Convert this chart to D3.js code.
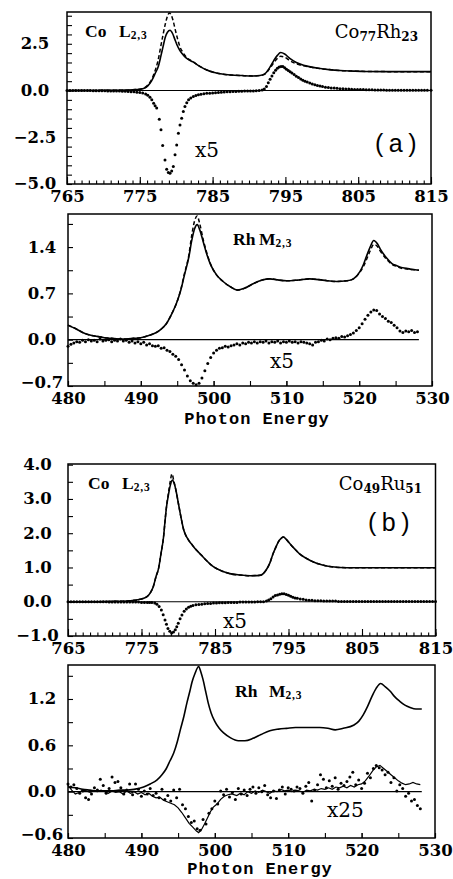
<!DOCTYPE html>
<html>
<head>
<meta charset="utf-8">
<script src="https://cdn.jsdelivr.net/npm/d3@7/dist/d3.min.js"></script>
<style>
  body { margin: 0; background: #fff; }
  text { fill: #000; }
</style>
</head>
<body>
<div id="chart"></div>
<script>
// ---- data: [photon energy (eV), normalised intensity] ----

// (a) Co77Rh23, Co L2,3 edge
const coXasA = [[765,0],[768,0],[771,0.01],[773,0.02],[774,0.04],[775,0.07],[775.6,0.12],[776.1,0.25],[776.6,0.5],[777.1,0.9],[777.55,1.3],[777.9,1.85],[778.2,2.36],[778.5,2.85],[778.8,3.12],[779.15,3.22],[779.5,3.05],[779.8,2.75],[780.1,2.45],[780.45,2.18],[780.8,1.98],[781.4,1.73],[782.3,1.53],[783.3,1.28],[784.2,1.1],[785.1,0.98],[786.3,0.88],[787.5,0.83],[789,0.8],[790.5,0.78],[791.5,0.8],[792.2,0.9],[792.8,1.2],[793.4,1.6],[793.9,1.88],[794.35,2.03],[794.9,1.95],[795.6,1.72],[796.5,1.5],[797.5,1.35],[798.6,1.25],[799.8,1.18],[801,1.12],[802.5,1.07],[804.3,1.04],[806,1.02],[810,1.01],[815,1.01]];
const coXasDashA = [[765,0],[770,0.01],[773,0.02],[774.5,0.05],[775.5,0.12],[776,0.25],[776.5,0.5],[777,0.95],[777.5,1.6],[777.9,2.4],[778.2,3.0],[778.5,3.55],[778.8,3.98],[779.05,4.15],[779.3,4.05],[779.6,3.7],[779.9,3.2],[780.2,2.75],[780.5,2.35],[780.9,2.05],[781.4,1.78],[782.3,1.54],[783.3,1.28],[784.2,1.1],[785.1,0.98],[786.3,0.88],[787.5,0.83],[789,0.8],[790.5,0.78],[791.5,0.8],[792.2,0.88],[792.8,1.15],[793.4,1.48],[793.9,1.72],[794.35,1.83],[794.9,1.78],[795.6,1.6],[796.5,1.43],[797.5,1.32],[798.6,1.24],[799.8,1.17],[801,1.12],[802.5,1.07],[804.3,1.04],[806,1.02],[810,1.01],[815,1.01]];
const coMcdA = [[765,0],[765.4,0],[765.8,0],[766.2,0],[766.6,0],[767,0],[767.4,0],[767.8,0],[768.2,0],[768.6,-0.01],[769,-0.01],[769.4,-0.01],[769.8,-0.01],[770.2,-0.01],[770.6,-0.02],[771,-0.02],[771.4,-0.02],[771.8,-0.03],[772.2,-0.03],[772.6,-0.04],[773,-0.04],[773.4,-0.05],[773.8,-0.06],[774.2,-0.07],[774.6,-0.09],[775,-0.11],[775.4,-0.13],[775.8,-0.18],[776.1,-0.25],[776.4,-0.36],[776.65,-0.5],[776.9,-0.68],[777.1,-0.82],[777.32,-0.94],[777.68,-1.53],[777.91,-2.1],[778.14,-2.94],[778.46,-3.71],[778.69,-4.21],[778.92,-4.38],[779.15,-4.43],[779.38,-4.3],[779.6,-4.07],[779.84,-3.44],[780.07,-2.91],[780.3,-2.28],[780.52,-1.85],[780.75,-1.48],[780.98,-1.12],[781.2,-0.86],[781.45,-0.66],[781.7,-0.5],[782,-0.4],[782.35,-0.32],[782.7,-0.27],[783.05,-0.23],[783.4,-0.2],[783.8,-0.17],[784.2,-0.15],[784.6,-0.14],[785,-0.13],[785.4,-0.12],[785.8,-0.1],[786.2,-0.09],[786.6,-0.08],[787,-0.07],[787.4,-0.06],[787.8,-0.05],[788.2,-0.05],[788.6,-0.04],[789,-0.04],[789.4,-0.03],[789.8,-0.03],[790.2,-0.02],[790.6,-0.02],[791,-0.01],[791.4,0],[791.8,0.03],[792.1,0.08],[792.4,0.22],[792.65,0.42],[792.9,0.6],[793.15,0.78],[793.4,0.95],[793.65,1.08],[793.9,1.19],[794.15,1.26],[794.4,1.29],[794.65,1.28],[794.9,1.22],[795.15,1.14],[795.4,1.07],[795.65,1.0],[795.9,0.94],[796.2,0.86],[796.5,0.77],[796.8,0.69],[797.1,0.61],[797.4,0.55],[797.7,0.5],[798,0.45],[798.35,0.4],[798.7,0.35],[799.05,0.31],[799.4,0.27],[799.75,0.24],[800.1,0.21],[800.5,0.18],[800.9,0.16],[801.3,0.14],[801.7,0.13],[802.1,0.12],[802.5,0.1],[802.9,0.09],[803.3,0.08],[803.7,0.08],[804.1,0.07],[804.5,0.06],[804.9,0.06],[805.3,0.05],[805.7,0.05],[806.1,0.04],[806.5,0.04],[806.9,0.04],[807.3,0.03],[807.7,0.03],[808.1,0.03],[808.5,0.03],[808.9,0.02],[809.3,0.02],[809.7,0.02],[810.1,0.02],[810.5,0.02],[810.9,0.02],[811.3,0.01],[811.7,0.01],[812.1,0.01],[812.5,0.01],[812.9,0.01],[813.3,0.01],[813.7,0.01],[814.1,0.01],[814.5,0.01],[815,0.01]];

// (a) Co77Rh23, Rh M2,3 edge
const rhXasA = [[480,0.22],[481,0.17],[482,0.11],[483,0.07],[484,0.05],[485,0.03],[486,0.02],[487,0.01],[488,0.01],[489,0.02],[490,0.03],[491,0.06],[492,0.1],[492.8,0.16],[493.5,0.24],[494.2,0.38],[494.9,0.55],[495.5,0.75],[496,0.98],[496.6,1.25],[497,1.5],[497.4,1.68],[497.75,1.74],[498.1,1.66],[498.6,1.47],[499.1,1.28],[499.6,1.13],[500.4,0.98],[501.3,0.88],[502.3,0.8],[503.3,0.75],[504.3,0.78],[505.5,0.85],[506.6,0.9],[507.7,0.92],[509,0.9],[510,0.89],[511.5,0.9],[513.2,0.92],[515,0.9],[516.9,0.88],[518.3,0.89],[519.2,0.92],[520.1,1.03],[520.6,1.14],[521,1.26],[521.5,1.4],[522,1.5],[522.5,1.45],[522.9,1.37],[523.8,1.23],[524.5,1.15],[525.1,1.12],[525.8,1.09],[526.5,1.08],[527.3,1.06],[528.2,1.05]];
const rhXasDashA = [[480,0.22],[481,0.17],[482,0.11],[483,0.07],[484,0.05],[485,0.03],[486,0.02],[487,0.01],[488,0.01],[489,0.02],[490,0.03],[491,0.06],[492,0.1],[492.8,0.16],[493.5,0.24],[494.2,0.38],[494.9,0.55],[495.5,0.76],[496,1.0],[496.6,1.28],[497,1.58],[497.4,1.8],[497.75,1.87],[498.1,1.75],[498.6,1.5],[499.1,1.3],[499.6,1.14],[500.4,0.98],[501.3,0.88],[502.3,0.8],[503.3,0.75],[504.3,0.78],[505.5,0.85],[506.6,0.9],[507.7,0.92],[509,0.9],[510,0.89],[511.5,0.9],[513.2,0.92],[515,0.9],[516.9,0.88],[518.3,0.89],[519.2,0.92],[520.1,1.02],[520.6,1.11],[521,1.21],[521.5,1.34],[522,1.44],[522.5,1.41],[522.9,1.34],[523.8,1.21],[524.5,1.14],[525.1,1.11],[525.8,1.08],[526.5,1.07],[527.3,1.06],[528.2,1.05]];
const rhMcdA = [[480,-0.1],[480.4,-0.07],[480.8,-0.05],[481.2,-0.03],[481.6,-0.04],[482,-0.01],[482.4,-0.03],[482.8,0],[483.2,-0.02],[483.6,-0.01],[484,-0.03],[484.4,0.01],[484.8,-0.02],[485.2,-0.01],[485.6,0],[486,-0.03],[486.4,-0.01],[486.8,-0.02],[487.2,0.01],[487.6,-0.02],[488,-0.01],[488.4,-0.04],[488.8,-0.02],[489.2,-0.05],[489.6,-0.03],[490,-0.06],[490.4,-0.04],[490.8,-0.08],[491.2,-0.06],[491.6,-0.09],[492,-0.1],[492.4,-0.09],[492.8,-0.13],[493.2,-0.12],[493.6,-0.16],[494,-0.18],[494.4,-0.22],[494.8,-0.25],[495.2,-0.3],[495.6,-0.38],[496,-0.46],[496.4,-0.55],[496.8,-0.62],[497.2,-0.66],[497.6,-0.68],[498,-0.66],[498.4,-0.58],[498.8,-0.47],[499.2,-0.36],[499.6,-0.27],[500,-0.2],[500.4,-0.16],[500.8,-0.13],[501.2,-0.12],[501.6,-0.1],[502,-0.11],[502.4,-0.09],[502.8,-0.08],[503.2,-0.06],[503.6,-0.08],[504,-0.05],[504.4,-0.06],[504.8,-0.04],[505.2,-0.05],[505.6,-0.03],[506,-0.05],[506.4,-0.03],[506.8,-0.04],[507.2,-0.02],[507.6,-0.05],[508,-0.03],[508.4,-0.04],[508.8,-0.02],[509.2,-0.05],[509.6,-0.03],[510,-0.04],[510.4,-0.02],[510.8,-0.04],[511.2,-0.03],[511.6,-0.05],[512,-0.03],[512.4,-0.04],[512.8,-0.05],[513.2,-0.06],[513.6,-0.08],[514,-0.04],[514.4,-0.03],[514.8,-0.01],[515.2,-0.02],[515.6,0.01],[516,0],[516.4,0.02],[516.8,0.03],[517.2,0.02],[517.6,0.05],[518,0.04],[518.4,0.06],[518.8,0.08],[519.2,0.1],[519.6,0.14],[520,0.18],[520.4,0.24],[520.8,0.31],[521.2,0.37],[521.6,0.42],[522,0.45],[522.4,0.44],[522.8,0.39],[523.2,0.35],[523.6,0.32],[524,0.28],[524.4,0.26],[524.8,0.22],[525.2,0.18],[525.6,0.13],[526,0.11],[526.4,0.13],[526.8,0.12],[527.2,0.14],[527.6,0.11],[528,0.12]];

// (b) Co49Ru51, Co L2,3 edge
const coXasB = [[765,0],[768,0],[771,0.01],[773,0.02],[774,0.04],[774.8,0.07],[775.7,0.14],[776.2,0.26],[776.6,0.44],[777,0.75],[777.3,0.95],[777.65,1.4],[778,1.89],[778.2,2.35],[778.4,2.76],[778.65,3.1],[778.9,3.38],[779.2,3.55],[779.45,3.45],[779.7,3.24],[779.95,2.95],[780.2,2.66],[780.45,2.38],[780.7,2.13],[781,1.95],[781.4,1.8],[782,1.63],[782.5,1.5],[783.2,1.35],[783.8,1.21],[784.5,1.07],[785.2,0.97],[786,0.89],[787,0.82],[788.4,0.78],[789.8,0.76],[791.1,0.77],[791.6,0.83],[792,0.94],[792.5,1.15],[792.9,1.4],[793.3,1.6],[793.6,1.74],[794,1.85],[794.3,1.89],[794.7,1.82],[795.2,1.69],[795.8,1.55],[796.5,1.4],[797.4,1.27],[798.4,1.16],[799.5,1.08],[800.6,1.03],[802,1],[803.8,0.99],[807,0.99],[811,0.99],[815,0.99]];
const coXasDashB = [[765,0],[768,0],[771,0.01],[773,0.02],[774,0.04],[774.8,0.07],[775.7,0.14],[776.2,0.26],[776.6,0.44],[777,0.75],[777.3,0.95],[777.65,1.4],[778,1.89],[778.2,2.35],[778.4,2.78],[778.65,3.15],[778.9,3.5],[779.15,3.73],[779.4,3.52],[779.7,3.24],[779.95,2.95],[780.2,2.66],[780.45,2.38],[780.7,2.13],[781,1.95],[781.4,1.8],[782,1.63],[782.5,1.5],[783.2,1.35],[783.8,1.21],[784.5,1.07],[785.2,0.97],[786,0.89],[787,0.82],[788.4,0.78],[789.8,0.76],[791.1,0.77],[791.6,0.83],[792,0.94],[792.5,1.15],[792.9,1.4],[793.3,1.6],[793.6,1.74],[794,1.85],[794.3,1.89],[794.7,1.82],[795.2,1.69],[795.8,1.55],[796.5,1.4],[797.4,1.27],[798.4,1.16],[799.5,1.08],[800.6,1.03],[802,1],[803.8,0.99],[807,0.99],[811,0.99],[815,0.99]];
const coMcdB = [[765,0],[765.4,0],[765.8,0],[766.2,0],[766.6,0],[767,0],[767.4,0],[767.8,0],[768.2,0],[768.6,0],[769,0],[769.4,0],[769.8,0],[770.2,0],[770.6,-0.01],[771,-0.01],[771.4,-0.01],[771.8,-0.01],[772.2,-0.01],[772.6,-0.01],[773,-0.01],[773.4,-0.01],[773.8,-0.01],[774.2,-0.01],[774.6,-0.01],[775,-0.02],[775.4,-0.02],[775.8,-0.02],[776.1,-0.02],[776.4,-0.02],[776.8,-0.04],[777.1,-0.07],[777.4,-0.14],[777.7,-0.24],[777.95,-0.38],[778.2,-0.53],[778.4,-0.66],[778.6,-0.78],[778.85,-0.86],[779.1,-0.91],[779.35,-0.88],[779.6,-0.82],[779.8,-0.73],[780,-0.63],[780.25,-0.5],[780.5,-0.39],[780.8,-0.28],[781.1,-0.21],[781.4,-0.16],[781.7,-0.13],[782,-0.11],[782.4,-0.09],[782.8,-0.08],[783.2,-0.07],[783.6,-0.06],[784,-0.05],[784.4,-0.05],[784.8,-0.04],[785.2,-0.04],[785.6,-0.03],[786,-0.03],[786.4,-0.03],[786.8,-0.02],[787.2,-0.02],[787.6,-0.02],[788,-0.02],[788.4,-0.01],[788.8,-0.01],[789.2,-0.01],[789.6,-0.01],[790,-0.01],[790.4,-0.01],[790.8,0],[791.2,0],[791.6,0],[792,0.02],[792.3,0.05],[792.6,0.09],[792.9,0.14],[793.2,0.18],[793.5,0.2],[793.8,0.22],[794.1,0.23],[794.4,0.23],[794.7,0.21],[795,0.19],[795.3,0.16],[795.6,0.13],[795.9,0.11],[796.2,0.1],[796.6,0.08],[797,0.07],[797.4,0.05],[797.8,0.04],[798.2,0.04],[798.6,0.03],[799,0.03],[799.4,0.03],[799.8,0.02],[800.2,0.02],[800.6,0.02],[801,0.02],[801.4,0.02],[801.8,0.01],[802.2,0.01],[802.6,0.01],[803,0.01],[803.4,0.01],[803.8,0.01],[804.2,0.01],[804.6,0.01],[805,0.01],[805.4,0.01],[805.8,0.01],[806.2,0.01],[806.6,0.01],[807,0.01],[807.4,0.01],[807.8,0.01],[808.2,0.01],[808.6,0.01],[809,0.01],[809.4,0.01],[809.8,0.01],[810.2,0.01],[810.6,0.01],[811,0.01],[811.4,0.01],[811.8,0.01],[812.2,0.01],[812.6,0.01],[813,0.01],[813.4,0.01],[813.8,0.01],[814.2,0.01],[814.6,0.01],[815,0.01]];

// (b) Co49Ru51, Rh M2,3 edge
const rhXasB = [[480,0.06],[481,0.05],[482,0.03],[483,0.02],[484,0.01],[485,0.01],[486,0.01],[487,0.02],[488,0.02],[489,0.03],[490.3,0.06],[491.2,0.1],[492.1,0.15],[492.8,0.22],[493.4,0.3],[493.9,0.4],[494.4,0.5],[494.9,0.65],[495.3,0.8],[495.8,0.98],[496.2,1.15],[496.6,1.3],[496.9,1.42],[497.3,1.53],[497.8,1.62],[498.1,1.55],[498.4,1.45],[498.75,1.3],[499.1,1.15],[499.5,1.02],[500,0.91],[500.6,0.82],[501.2,0.76],[502.1,0.7],[503.2,0.66],[504.1,0.66],[505.2,0.69],[506.3,0.74],[507.5,0.79],[508.7,0.81],[509.8,0.82],[511,0.83],[512.1,0.83],[513.2,0.83],[514.3,0.83],[515.4,0.82],[516.4,0.8],[517.5,0.82],[518.9,0.86],[519.6,0.91],[520.2,0.99],[520.8,1.1],[521.4,1.23],[522,1.34],[522.6,1.4],[523.2,1.36],[523.9,1.3],[524.5,1.23],[525.2,1.17],[525.9,1.12],[526.6,1.09],[527.4,1.07],[528.2,1.07]];
const rhMcdLineB = [[480,0.08],[480.5,0.02],[481,-0.03],[481.5,-0.01],[482,0.02],[482.5,0.01],[483,-0.01],[483.5,0.01],[484,0],[484.5,0.02],[485,0],[485.5,-0.02],[486,0.01],[486.5,-0.01],[487,0],[487.5,-0.03],[488,0.01],[488.5,-0.02],[489,0],[489.5,-0.03],[490,-0.01],[490.5,-0.04],[491,-0.02],[491.5,-0.06],[492,-0.08],[492.5,-0.07],[493,-0.11],[493.5,-0.13],[494,-0.15],[494.5,-0.17],[495,-0.21],[495.5,-0.27],[496,-0.34],[496.5,-0.41],[497,-0.46],[497.5,-0.51],[497.8,-0.53],[498.2,-0.49],[498.6,-0.42],[499,-0.34],[499.4,-0.26],[499.8,-0.2],[500.3,-0.16],[500.8,-0.1],[501.3,-0.06],[501.8,-0.04],[502.3,-0.03],[503,-0.05],[503.5,-0.02],[504,-0.04],[504.5,0],[505,-0.02],[505.5,0.01],[506,-0.01],[506.5,0.02],[507,0],[507.5,-0.02],[508,0.01],[508.5,0],[509,0.03],[509.5,0.01],[510,0.02],[510.5,0],[511,0.02],[511.5,0.01],[512,-0.01],[512.5,0.02],[513,0.01],[513.5,0.03],[514,0.02],[514.5,0.04],[515,0.03],[515.5,0.05],[516,0.03],[516.5,0.06],[517,0.05],[517.5,0.07],[518,0.05],[518.5,0.08],[519,0.06],[519.5,0.09],[520,0.1],[520.5,0.14],[521,0.2],[521.5,0.27],[522,0.32],[522.5,0.34],[523,0.3],[523.5,0.26],[524,0.22],[524.5,0.18],[525,0.14],[525.5,0.11],[526,0.09],[526.5,0.1],[527,0.12],[527.5,0.1],[528,0.09]];
const rhMcdDotsB = [[480,0.1],[480.4,0.06],[480.8,0.09],[481.2,0.04],[481.6,-0.02],[482,0.01],[482.4,-0.08],[482.8,-0.1],[483.2,-0.03],[483.6,0.05],[484,0.02],[484.4,0.16],[484.8,0.08],[485.2,-0.02],[485.6,0.04],[486,0.19],[486.4,0.12],[486.8,0.13],[487.2,0.05],[487.6,-0.03],[488,0.02],[488.4,0.1],[488.8,-0.04],[489.2,0.1],[489.6,0.03],[490,-0.06],[490.4,0.01],[490.8,-0.03],[491.2,0.04],[491.6,-0.05],[492,-0.02],[492.4,-0.08],[492.8,0.03],[493.2,-0.1],[493.6,-0.05],[494,-0.12],[494.4,0.02],[494.8,-0.08],[495.2,0.03],[495.6,-0.17],[496,-0.22],[496.4,-0.32],[496.8,-0.4],[497.2,-0.38],[497.6,-0.48],[498,-0.5],[498.4,-0.36],[498.8,-0.42],[499.2,-0.28],[499.6,-0.22],[500,-0.12],[500.4,-0.16],[500.8,0.01],[501.2,-0.04],[501.6,0.03],[502,-0.07],[502.4,-0.01],[502.8,-0.1],[503.2,0.04],[503.6,-0.03],[504,0.02],[504.4,-0.05],[504.8,0.03],[505.2,0.06],[505.6,-0.02],[506,0.05],[506.4,0],[506.8,0.08],[507.2,-0.04],[507.6,-0.08],[508,0.01],[508.4,-0.09],[508.8,0.02],[509.2,0.06],[509.6,-0.03],[510,0.05],[510.4,0.03],[510.8,0.01],[511.2,0.06],[511.6,0.04],[512,-0.02],[512.4,0.07],[512.8,0.12],[513.2,-0.12],[513.6,0.02],[514,0.09],[514.4,0.22],[514.8,0.16],[515.2,0.05],[515.6,0.14],[516,0.07],[516.4,0.18],[516.8,0.03],[517.2,0.11],[517.6,0.08],[518,0.13],[518.4,0.19],[518.8,0.25],[519.2,0.09],[519.6,0.15],[520,0.04],[520.4,0.11],[520.8,0.24],[521.2,0.18],[521.6,0.3],[522,0.34],[522.4,0.31],[522.8,0.28],[523.2,0.22],[523.6,0.25],[524,0.12],[524.4,0.18],[524.8,0.01],[525.2,0.09],[525.6,0.04],[526,-0.06],[526.4,-0.02],[526.8,-0.12],[527.2,-0.1],[527.6,-0.18],[528,-0.22]];

// ---- axis ticks ----
const coXTicks = [765, 775, 785, 795, 805, 815];
const rhXTicks = [480, 490, 500, 510, 520, 530];
const yTicksA = [-5, -2.5, 0, 2.5];
const yTicksB = [-0.7, 0, 0.7, 1.4];
const yTicksC = [-1, 0, 1, 2, 3, 4];
const yTicksD = [-0.6, 0, 0.6, 1.2];

const W = 453, H = 879;
const svg = d3.select('#chart').append('svg')
  .attr('width', W)
  .attr('height', H)
  .style('font-family', 'DejaVu Serif');

const panels = [
  {
    box: [67, 12, 431, 184], xDom: [765, 815], yDom: [-5, 4.2],
    xTicks: coXTicks, xMinor: 1, yTicks: yTicksA, yMinor: 0.5, yLabelX: 35, lowDy: 0.3,
    solid: coXasA, dashed: coXasDashA, dots: coMcdA, zero: [765, 815],
    edge: { main: 'Co', sym: 'L', sub: '2,3', x: 85, x2: 119, y: 37 },
    alloy: { a: 'Co', na: '77', b: 'Rh', nb: '23', x: 418, y: 38 },
    tag: { t: '(a)', x: 375, y: 152 },
    scale: { t: 'x5', x: 195, y: 157 }
  },
  {
    box: [68, 214, 432, 386], xDom: [480, 530], yDom: [-0.7, 1.9],
    xTicks: rhXTicks, xMinor: 5, yTicks: yTicksB, yMinor: 0.35, yLabelX: 42, lowDy: 0.1,
    solid: rhXasA, dashed: rhXasDashA, dots: rhMcdA, zero: [480, 528.2],
    edge: { main: 'Rh', sym: 'M', sub: '2,3', x: 233, x2: 259, y: 245 },
    scale: { t: 'x5', x: 270, y: 368 },
    xTitle: { x: 257, y: 424 }
  },
  {
    box: [68, 464, 435.5, 636], xDom: [765, 815], yDom: [-1, 4.02],
    xTicks: coXTicks, xMinor: 1, yTicks: yTicksC, yMinor: 0.5, yLabelX: 37.5, lowDy: 0.3,
    solid: coXasB, dashed: coXasDashB, dots: coMcdB, zero: [765, 815],
    edge: { main: 'Co', sym: 'L', sub: '2,3', x: 88, x2: 122, y: 489 },
    alloy: { a: 'Co', na: '49', b: 'Ru', nb: '51', x: 422, y: 490 },
    tag: { t: '(b)', x: 368, y: 531 },
    scale: { t: 'x5', x: 223, y: 628 }
  },
  {
    box: [68, 665, 435, 838], xDom: [480, 530], yDom: [-0.6, 1.64],
    xTicks: rhXTicks, xMinor: 5, yTicks: yTicksD, yMinor: 0.3, yLabelX: 42, lowDy: 0.1,
    solid: rhXasB, thin: rhMcdLineB, dots: rhMcdDotsB, zero: [480, 528.2],
    edge: { main: 'Rh', sym: 'M', sub: '2,3', x: 235, x2: 269, y: 697 },
    scale: { t: 'x25', x: 327, y: 817 },
    xTitle: { x: 260, y: 873.5 }
  }
];

panels.forEach(p => {
  const [x0, y0, x1, y1] = p.box;
  const x = d3.scaleLinear().domain(p.xDom).range([x0, x1]);
  const y = d3.scaleLinear().domain(p.yDom).range([y1, y0]);
  const g = svg.append('g');

  // minor ticks (inward)
  const xMinorVals = d3.range(p.xDom[0], p.xDom[1] + 0.001, p.xMinor);
  g.append('g').attr('transform', `translate(0,${y1})`)
    .call(d3.axisBottom(x).tickValues(xMinorVals).tickSizeInner(p.xMinor === 1 ? -3.5 : -5).tickSizeOuter(0).tickFormat(''))
    .call(a => a.select('.domain').remove())
    .call(a => a.selectAll('line').attr('stroke-width', 1.1));

  // major ticks with labels
  g.append('g').attr('transform', `translate(0,${y1})`)
    .call(d3.axisBottom(x).tickValues(p.xTicks).tickSizeInner(p.xMinor === 1 ? -7 : -5).tickSizeOuter(0).tickPadding(6).tickFormat(d3.format('d')))
    .call(a => a.select('.domain').remove())
    .call(a => a.selectAll('line').attr('stroke-width', 1.1))
    .call(a => a.selectAll('text')
      .attr('font-family', 'DejaVu Serif').attr('font-weight', 'bold').attr('font-size', 16.5));

  // y ticks
  const yMinorVals = d3.range(Math.ceil(p.yDom[0] / p.yMinor - 1e-6), Math.floor(p.yDom[1] / p.yMinor + 1e-6) + 1)
    .map(k => +(k * p.yMinor).toFixed(3));
  g.append('g').attr('transform', `translate(${x0},0)`)
    .call(d3.axisLeft(y).tickValues(yMinorVals).tickSizeInner(-5).tickSizeOuter(0).tickFormat(''))
    .call(a => a.select('.domain').remove())
    .call(a => a.selectAll('line').attr('stroke-width', 1.1));

  const lowest = d3.min(p.yTicks);
  g.append('g').attr('transform', `translate(${x0},0)`)
    .call(d3.axisLeft(y).tickValues(p.yTicks).tickSize(0).tickFormat(d3.format('.1f')))
    .call(a => a.select('.domain').remove())
    .call(a => a.selectAll('text')
      .attr('x', p.yLabelX - x0)
      .attr('dy', d => (d === lowest ? p.lowDy : 0.3) + 'em')
      .attr('text-anchor', 'middle')
      .attr('font-family', 'DejaVu Serif').attr('font-weight', 'bold').attr('font-size', 16.5));

  // zero line
  g.append('line')
    .attr('x1', x(p.zero[0])).attr('x2', x(p.zero[1]))
    .attr('y1', y(0)).attr('y2', y(0))
    .attr('stroke', '#000').attr('stroke-width', 1.2);

  const line = d3.line().x(d => x(d[0])).y(d => y(d[1])).curve(d3.curveMonotoneX);

  if (p.dashed) {
    g.append('path').datum(p.dashed)
      .attr('d', line).attr('fill', 'none')
      .attr('stroke', '#000').attr('stroke-width', 1.5)
      .attr('stroke-dasharray', '4,2.5');
  }
  g.append('path').datum(p.solid)
    .attr('d', line).attr('fill', 'none')
    .attr('stroke', '#000').attr('stroke-width', 1.6);

  if (p.thin) {
    g.append('path').datum(p.thin)
      .attr('d', d3.line().x(d => x(d[0])).y(d => y(d[1])))
      .attr('fill', 'none').attr('stroke', '#000').attr('stroke-width', 1.2);
  }

  g.append('g').selectAll('circle').data(p.dots).join('circle')
    .attr('cx', d => x(d[0])).attr('cy', d => y(d[1]))
    .attr('r', 1.5).attr('fill', '#000');

  // frame
  g.append('rect')
    .attr('x', x0).attr('y', y0).attr('width', x1 - x0).attr('height', y1 - y0)
    .attr('fill', 'none').attr('stroke', '#000').attr('stroke-width', 1.5);

  // edge label, e.g. "Co L2,3"
  const e = p.edge;
  g.append('text').attr('x', e.x).attr('y', e.y)
    .attr('font-family', 'Liberation Serif').attr('font-weight', 'bold').attr('font-size', 17.5)
    .text(e.main);
  const t2 = g.append('text').attr('x', e.x2).attr('y', e.y)
    .attr('font-family', 'Liberation Serif').attr('font-weight', 'bold').attr('font-size', 17.5);
  t2.append('tspan').text(e.sym);
  t2.append('tspan').attr('dy', 2).attr('font-size', 11.5).attr('letter-spacing', 0.8).text(e.sub);

  if (p.alloy) {
    const al = p.alloy;
    const t = g.append('text').attr('x', al.x).attr('y', al.y)
      .attr('text-anchor', 'end')
      .attr('font-family', 'DejaVu Serif').attr('font-size', 18);
    t.append('tspan').text(al.a);
    t.append('tspan').attr('dy', 3).attr('font-size', 12).attr('font-weight', 'bold').text(al.na);
    t.append('tspan').attr('dy', -3).text(al.b);
    t.append('tspan').attr('dy', 3).attr('font-size', 12).attr('font-weight', 'bold').text(al.nb);
  }

  if (p.tag) {
    g.append('text').attr('x', p.tag.x).attr('y', p.tag.y)
      .attr('font-family', 'Liberation Sans').attr('font-size', 25)
      .attr('letter-spacing', 5.5)
      .text(p.tag.t);
  }

  g.append('text').attr('x', p.scale.x).attr('y', p.scale.y)
    .attr('font-family', 'DejaVu Serif').attr('font-size', 20)
    .text(p.scale.t);

  if (p.xTitle) {
    g.append('text').attr('x', p.xTitle.x).attr('y', p.xTitle.y)
      .attr('text-anchor', 'middle')
      .attr('font-family', 'Liberation Mono').attr('font-weight', 'bold').attr('font-size', 17)
      .attr('letter-spacing', 1)
      .text('Photon Energy');
  }
});
</script>
</body>
</html>
